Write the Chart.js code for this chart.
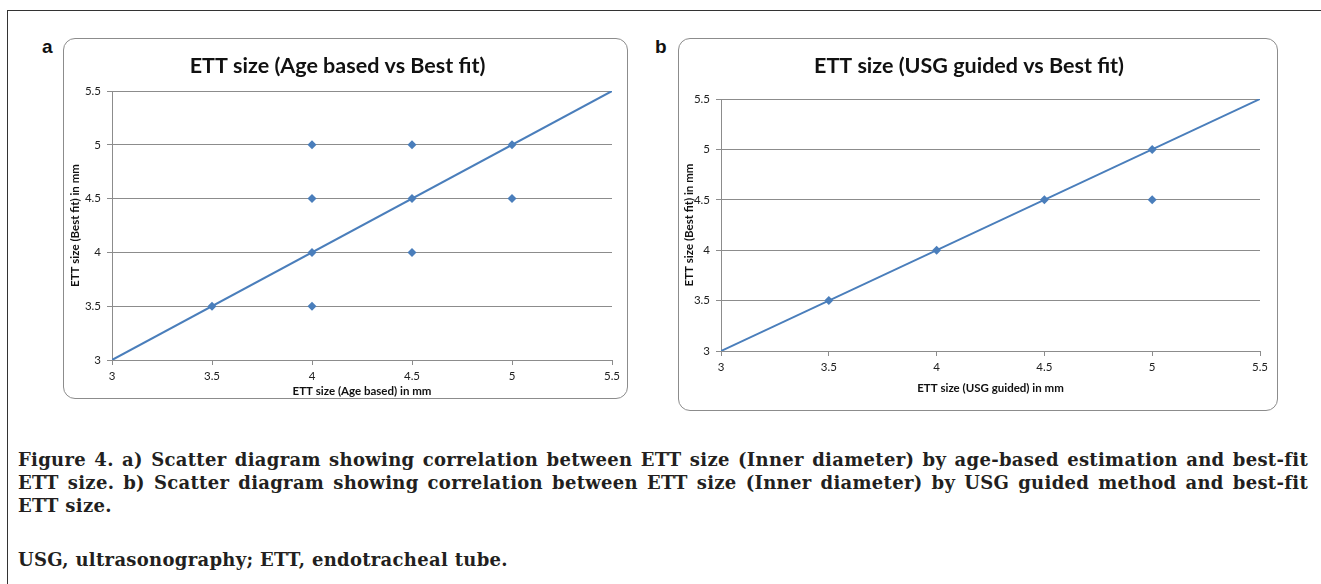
<!DOCTYPE html>
<html>
<head>
<meta charset="utf-8">
<script src="https://cdn.jsdelivr.net/npm/chart.js@4.4.0/dist/chart.umd.min.js"></script>
<style>
body{margin:0;background:#fff;width:1321px;height:584px;overflow:hidden;position:relative;}
#frame{position:absolute;left:7px;top:10px;width:1400px;height:600px;border-top:1px solid #333;border-left:1px solid #333;}
.box{position:absolute;border:1px solid #8c8c8c;border-radius:12px;box-sizing:border-box;}
.cv{position:absolute;}
.lab{position:absolute;font:bold 19px 'Liberation Sans',sans-serif;color:#111;}
.cap{position:absolute;left:18px;width:1290px;font:bold 18px 'DejaVu Serif',serif;letter-spacing:0.3px;color:#231f20;line-height:23px;white-space:nowrap;}
.just{text-align:justify;text-align-last:justify;}
</style>
</head>
<body>
<div id="frame"></div>
<div class="lab" style="left:42px;top:36px;">a</div>
<div class="lab" style="left:655px;top:36px;">b</div>
<div class="box" style="left:63px;top:38px;width:565px;height:361px;"></div>
<div class="box" style="left:678px;top:38px;width:600px;height:373px;"></div>
<canvas id="chartA" class="cv" style="left:63px;top:38px;" width="564" height="360"></canvas>
<canvas id="chartB" class="cv" style="left:678px;top:38px;" width="599" height="372"></canvas>
<div class="cap just" style="top:448px;">Figure 4. a) Scatter diagram showing correlation between ETT size (Inner diameter) by age-based estimation and best-fit</div>
<div class="cap just" style="top:471px;">ETT size. b) Scatter diagram showing correlation between ETT size (Inner diameter) by USG guided method and best-fit</div>
<div class="cap" style="top:494px;">ETT size.</div>
<div class="cap" style="top:548px;">USG, ultrasonography; ETT, endotracheal tube.</div>
<script>
// dati
const ticksMm = [3, 3.5, 4, 4.5, 5, 5.5];

const ageX = [3.5, 4, 4, 4, 4, 4.5, 4.5, 4.5, 5, 5];
const ageY = [3.5, 3.5, 4, 4.5, 5, 4, 4.5, 5, 4.5, 5];

const usgX = [3.5, 4, 4.5, 5, 5];
const usgY = [3.5, 4, 4.5, 5, 4.5];

const lineX = [3, 5.5];
const lineY = [3, 5.5];

const blu = '#4a7ebb';
const grigio = '#8c8c8c';

function punti(xs, ys){
    const out = [];
    for(let i=0;i<xs.length;i++){
        out.push({x: xs[i], y: ys[i]});
    }
    return out;
}

function creaGrafico(id, titolo, xTitolo, o){
    new Chart(document.getElementById(id), {
        type: 'scatter',
        data: {
            datasets: [{
                data: punti(o.xs, o.ys),
                pointStyle: 'rectRot',
                pointRadius: 4.5,
                backgroundColor: blu,
                borderColor: blu,
                borderWidth: 0,
                order: 1
            }, {
                type: 'line',
                data: punti(lineX, lineY),
                borderColor: blu,
                borderWidth: 2,
                pointRadius: 0,
                order: 2
            }]
        },
        options: {
            responsive: false,
            animation: false,
            layout: { padding: { right: o.padRight } },
            plugins: {
                legend: { display: false },
                tooltip: { enabled: false },
                title: {
                    display: true,
                    text: titolo,
                    color: '#111',
                    font: { family: 'Lato', size: 21.5, weight: 'bold', lineHeight: 1.2 },
                    padding: { top: 15, bottom: o.titleBottom }
                }
            },
            scales: {
                x: {
                    type: 'linear',
                    min: ticksMm[0],
                    max: ticksMm[ticksMm.length-1],
                    afterBuildTicks: s => { s.ticks = ticksMm.map(v => ({value: v})); },
                    afterFit: s => { s.height = o.xHeight; },
                    grid: { drawOnChartArea: false, drawTicks: true, tickLength: 5, color: grigio },
                    border: { color: grigio },
                    ticks: { color: '#222', padding: 4, font: { family: 'Lato', size: 11.5 }, callback: v => String(v) },
                    title: {
                        display: true,
                        text: xTitolo,
                        color: '#111',
                        font: { family: 'Lato', size: 11.5, weight: 'bold', lineHeight: 1.2 },
                        padding: { top: 0, bottom: o.xTitleBottom }
                    }
                },
                y: {
                    type: 'linear',
                    min: ticksMm[0],
                    max: ticksMm[ticksMm.length-1],
                    afterBuildTicks: s => { s.ticks = ticksMm.map(v => ({value: v})); },
                    afterFit: s => { s.width = o.yWidth; },
                    grid: { color: grigio, tickLength: 5 },
                    border: { color: grigio },
                    ticks: { color: '#222', padding: 6, font: { family: 'Lato', size: 11.5 }, callback: v => String(v) },
                    title: {
                        display: true,
                        text: 'ETT size (Best fit) in mm',
                        color: '#111',
                        font: { family: 'Lato', size: 11.5, weight: 'bold', lineHeight: 1.2 },
                        padding: { top: o.yTitleTop, bottom: 0 }
                    }
                }
            }
        }
    });
}

creaGrafico('chartA', 'ETT size (Age based vs Best fit)', 'ETT size (Age based) in mm',
    { xs: ageX, ys: ageY, padRight: 15, titleBottom: 12.2, xHeight: 38, yWidth: 49, xTitleBottom: 0, yTitleTop: 5 });
creaGrafico('chartB', 'ETT size (USG guided vs Best fit)', 'ETT size (USG guided) in mm',
    { xs: usgX, ys: usgY, padRight: 17, titleBottom: 20.2, xHeight: 59, yWidth: 43, xTitleBottom: 15, yTitleTop: 4 });
</script>
</body>
</html>
